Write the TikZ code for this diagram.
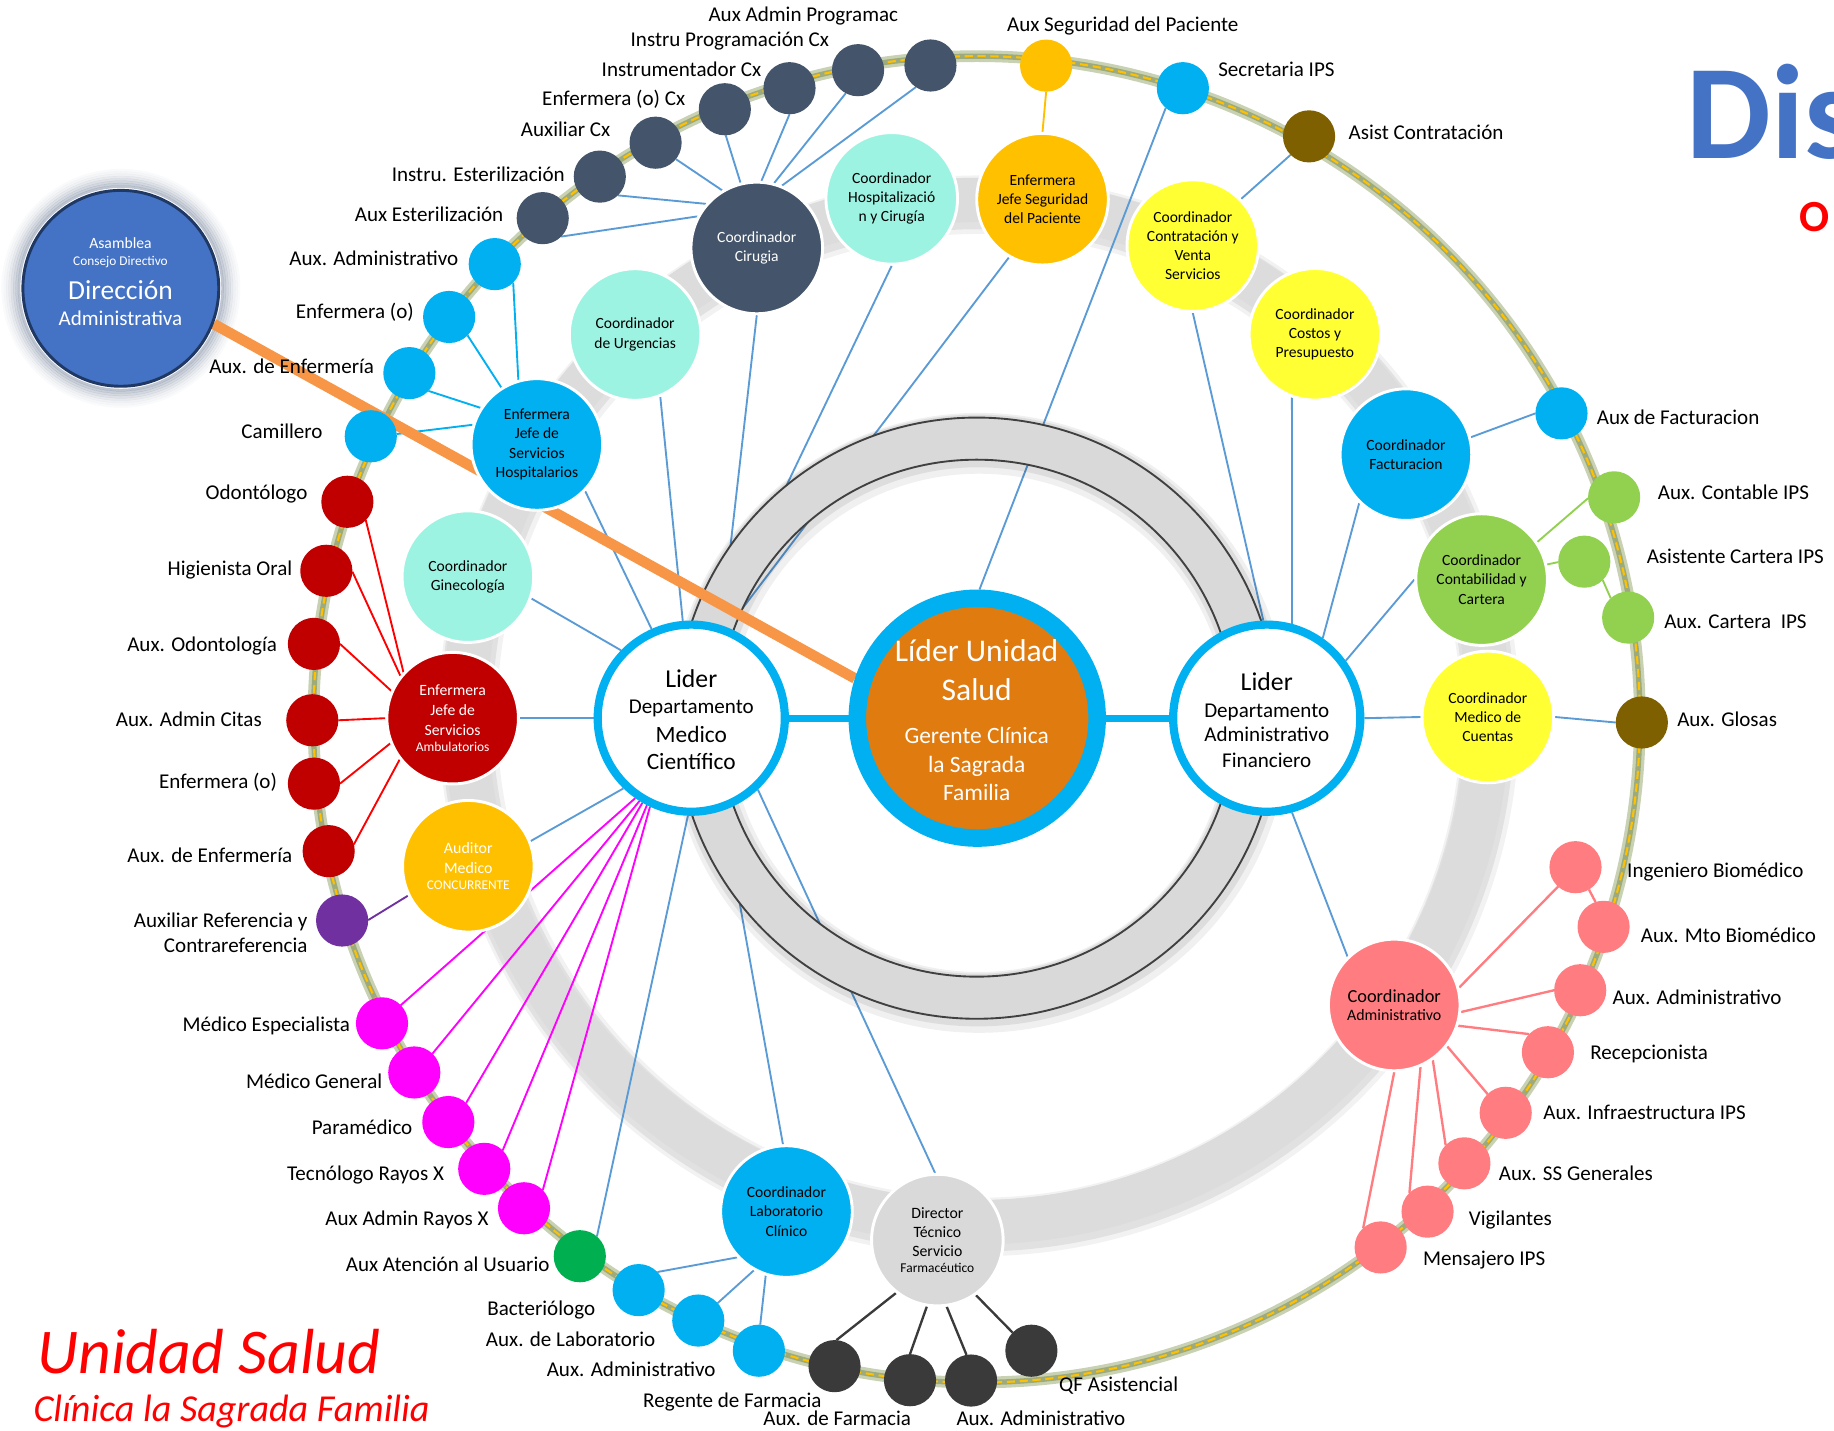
\documentclass[tikz,border=0pt]{standalone}
\usepackage{fontspec}
\setmainfont{Carlito}
\pgfdeclarelayer{back}
\pgfdeclarelayer{lines}
\pgfdeclarelayer{ringl}
\pgfsetlayers{back,lines,ringl,main}
\definecolor{slate}{HTML}{44546A}
\definecolor{aqua}{HTML}{9DF3E2}
\definecolor{gold}{HTML}{FFC000}
\definecolor{yel}{HTML}{FFFF33}
\definecolor{sky}{HTML}{00B0F0}
\definecolor{lgreen}{HTML}{92D050}
\definecolor{salmon}{HTML}{FF7C80}
\definecolor{dred}{HTML}{C00000}
\definecolor{purp}{HTML}{7030A0}
\definecolor{mag}{HTML}{FF00FF}
\definecolor{dgreen}{HTML}{00B050}
\definecolor{olivebrown}{HTML}{7F6000}
\definecolor{charc}{HTML}{3A3A3A}
\definecolor{lgray}{HTML}{D9D9D9}
\definecolor{bandgray}{HTML}{DCDCDC}
\definecolor{ctrorange}{HTML}{E07B10}
\definecolor{lineorange}{HTML}{F79646}
\definecolor{dirblue}{HTML}{4472C4}
\definecolor{dirnavy}{HTML}{1F3864}
\definecolor{conn}{HTML}{5B9BD5}
\definecolor{ringline}{HTML}{404040}
\definecolor{ringglow}{HTML}{C9D1B3}
\definecolor{ringcore}{HTML}{9CAA7C}
\definecolor{glowc}{HTML}{6E7D96}
\tikzset{
  sm/.style={circle, minimum size=44.6pt, inner sep=0pt, outer sep=0pt, draw=none},
  co/.style={circle, draw=white, line width=2.5pt, minimum size=112.5pt, inner sep=0pt, align=center, font=\fontsize{13.3}{16.5}\selectfont},
  lbl/.style={inner sep=0pt, font=\fontsize{18}{21.5}\selectfont, text height=13pt, text depth=3pt},
  ltx/.style={inner sep=0pt, anchor=base},
  cl/.style={draw=conn, line width=1.6pt},
  lider/.style={circle, draw=sky, line width=7pt, fill=white, minimum size=160pt, inner sep=0pt}
}
\begin{document}
\begin{tikzpicture}[x=1pt,y=-1pt]
\useasboundingbox (0,0) rectangle (1568,1223.4);
\clip (0,0) rectangle (1568,1223.4);

% ---------------- main nodes ----------------
\node[lider] (L1) at (591,614) {};
\node[lider] (L2) at (1083,614) {};
\node[circle, draw=sky, line width=15pt, fill=ctrorange, minimum size=205pt, inner sep=0pt] (ctr) at (835.5,614) {};
\node[circle, draw=dirnavy, line width=2.5pt, fill=dirblue, minimum size=167.5pt, inner sep=0pt] (dir) at (103.3,246.5) {};

\node[ltx, font=\fontsize{22}{26}\selectfont] (L1a) at (591,587.7) {Lider};
\node[ltx, font=\fontsize{18}{22}\selectfont] (L1b) at (591,609.9) {Departamento};
\node[ltx, font=\fontsize{20}{24}\selectfont] (L1c) at (591,634.7) {Medico};
\node[ltx, font=\fontsize{20}{24}\selectfont] (L1d) at (591,658.3) {Científico};

\node[ltx, font=\fontsize{22}{26}\selectfont] (L2a) at (1083,590.5) {Lider};
\node[ltx, font=\fontsize{18}{22}\selectfont] (L2b) at (1083,613.3) {Departamento};
\node[ltx, font=\fontsize{18}{22}\selectfont] (L2c) at (1083,634.1) {Administrativo};
\node[ltx, font=\fontsize{18}{22}\selectfont] (L2d) at (1083,656.3) {Financiero};

\node[ltx, text=white, font=\fontsize{27}{32}\selectfont] (ca) at (835,565.7) {Líder Unidad};
\node[ltx, text=white, font=\fontsize{27}{32}\selectfont] (cb) at (835,598.5) {Salud};
\node[ltx, text=white, font=\fontsize{20}{24}\selectfont] (cc) at (835,635.5) {Gerente Clínica};
\node[ltx, text=white, font=\fontsize{20}{24}\selectfont] (cd) at (835,660.6) {la Sagrada};
\node[ltx, text=white, font=\fontsize{20}{24}\selectfont] (ce) at (835,684.6) {Familia};

\node[ltx, text=white, font=\fontsize{13.4}{16}\selectfont] (da) at (103,212.3) {Asamblea};
\node[ltx, text=white, font=\fontsize{11.4}{14}\selectfont] (db) at (103,227.2) {Consejo Directivo};
\node[ltx, text=white, font=\fontsize{23.5}{28}\selectfont] (dc) at (103,255.9) {Dirección};
\node[ltx, text=white, font=\fontsize{18}{22}\selectfont] (dd) at (103,278.7) {Administrativa};

% ---------------- coordinators ----------------
\node[co, fill=slate, text=white] (C1) at (647,212) {Coordinador\\Cirugia};
\node[co, fill=aqua] (C2) at (762.4,169.6) {Coordinador\\Hospitalizació\\n y Cirugía};
\node[co, fill=gold] (C3) at (891.3,170.3) {Enfermera\\Jefe Seguridad\\del Paciente};
\node[co, fill=yel] (C4) at (1019.8,210) {Coordinador\\Contratación y\\Venta\\Servicios};
\node[co, fill=yel] (C5) at (1124.2,285.8) {Coordinador\\Costos y\\Presupuesto};
\node[co, fill=sky] (C6) at (1202,388.7) {Coordinador\\Facturacion};
\node[co, fill=lgreen] (C7) at (1266.7,495.5) {Coordinador\\Contabilidad y\\Cartera};
\node[co, fill=yel] (C8) at (1272,613) {Coordinador\\Medico de\\Cuentas};
\node[co, fill=salmon, font=\fontsize{13.6}{15}\selectfont] (C9) at (1192,859.2) {{\fontsize{15.7}{17}\selectfont Coordinador}\\Administrativo};
\node[co, fill=lgray, font=\fontsize{13.5}{16.5}\selectfont] (C10) at (801.4,1060.2) {Director\\Técnico\\Servicio\\[-3pt]{\fontsize{11.5}{13}\selectfont Farmacéutico}};
\node[co, fill=sky] (C11) at (672.4,1035.8) {Coordinador\\Laboratorio\\Clínico};
\node[co, fill=gold, text=white, font=\fontsize{13.6}{16.9}\selectfont] (C12) at (400.4,740.6) {Auditor\\Medico\\[-3pt]{\fontsize{11.4}{13}\selectfont CONCURRENTE}};
\node[co, fill=dred, text=white, font=\fontsize{13.4}{16.8}\selectfont] (C13) at (387,614) {Enfermera\\Jefe de\\Servicios\\[-3pt]{\fontsize{11.5}{13}\selectfont Ambulatorios}};
\node[co, fill=aqua] (C14) at (400,493) {Coordinador\\Ginecología};
\node[co, fill=sky] (C15) at (459,380) {Enfermera\\Jefe de\\Servicios\\Hospitalarios};
\node[co, fill=aqua] (C16) at (543,286) {Coordinador\\de Urgencias};

% ---------------- outer small nodes ----------------
\node[sm, fill=slate] (p1) at (795.5,56) {};
\node[sm, fill=slate] (p2) at (733.6,60) {};
\node[sm, fill=slate] (p3) at (675,75.4) {};
\node[sm, fill=slate] (p4) at (619.7,93.4) {};
\node[sm, fill=slate] (p5) at (560.5,122) {};
\node[sm, fill=slate] (p6) at (512.8,151) {};
\node[sm, fill=slate] (p7) at (464,186.5) {};
\node[sm, fill=sky] (h1) at (423,225.8) {};
\node[sm, fill=sky] (h2) at (384,271) {};
\node[sm, fill=sky] (h3) at (350,319) {};
\node[sm, fill=sky] (h4) at (317,373) {};
\node[sm, fill=dred] (r1) at (297,429) {};
\node[sm, fill=dred] (r2) at (279,488) {};
\node[sm, fill=dred] (r3) at (268.4,550.5) {};
\node[sm, fill=dred] (r4) at (267,615.8) {};
\node[sm, fill=dred] (r5) at (268.4,670) {};
\node[sm, fill=dred] (r6) at (281,727.7) {};
\node[sm, fill=purp] (u1) at (292.5,787) {};
\node[sm, fill=mag] (m1) at (326.6,874.9) {};
\node[sm, fill=mag] (m2) at (354.2,916.9) {};
\node[sm, fill=mag] (m3) at (383.3,959.3) {};
\node[sm, fill=mag] (m4) at (414,999.3) {};
\node[sm, fill=mag] (m5) at (448,1033) {};
\node[sm, fill=dgreen] (g1) at (495.7,1074) {};
\node[sm, fill=sky] (b1) at (546,1103) {};
\node[sm, fill=sky] (b2) at (597,1129) {};
\node[sm, fill=sky] (b3) at (648.8,1154.8) {};
\node[sm, fill=charc] (f1) at (713.5,1168) {};
\node[sm, fill=charc] (f2) at (778,1180) {};
\node[sm, fill=charc] (f3) at (830.2,1180.3) {};
\node[sm, fill=charc] (f4) at (881.8,1154.8) {};
\node[sm, fill=salmon] (s1) at (1180.4,1066.5) {};
\node[sm, fill=salmon] (s2) at (1220.5,1035.9) {};
\node[sm, fill=salmon] (s3) at (1252,994.6) {};
\node[sm, fill=salmon] (s4) at (1287.3,951.4) {};
\node[sm, fill=salmon] (s5) at (1323.4,899.6) {};
\node[sm, fill=salmon] (s6) at (1351,846.6) {};
\node[sm, fill=salmon] (s7) at (1371,792.4) {};
\node[sm, fill=salmon] (s8) at (1347,741.4) {};
\node[sm, fill=olivebrown] (e1) at (1403.7,617.7) {};
\node[sm, fill=lgreen] (k1) at (1392,528) {};
\node[sm, fill=lgreen] (k2) at (1354.5,480.2) {};
\node[sm, fill=lgreen] (k3) at (1380,425.2) {};
\node[sm, fill=sky] (q1) at (1335,353.4) {};
\node[sm, fill=olivebrown] (q2) at (1119.2,116.6) {};
\node[sm, fill=sky] (q3) at (1011.3,75.4) {};
\node[sm, fill=gold] (q4) at (894.4,56.1) {};

% ---------------- labels ----------------
\node[lbl, anchor=east] (tp1) at (768,13.7) {Aux Admin Programac};
\node[lbl, anchor=east] (tp2) at (709,34.6) {Instru Programación Cx};
\node[lbl, anchor=east] (tp3) at (651,60) {Instrumentador Cx};
\node[lbl, anchor=east] (tp4) at (586,85.6) {Enfermera (o) Cx};
\node[lbl, anchor=east] (tp5) at (522,111.5) {Auxiliar Cx};
\node[lbl, anchor=east] (tp6) at (483,150.4) {Instru. Esterilización};
\node[lbl, anchor=east] (tp7) at (430.5,184.5) {Aux Esterilización};
\node[lbl, anchor=east] (th1) at (392,221.8) {Aux. Administrativo};
\node[lbl, anchor=east] (th2) at (354,267) {Enfermera (o)};
\node[lbl, anchor=east] (th3) at (320,314) {Aux. de Enfermería};
\node[lbl, anchor=east] (th4) at (276,370) {Camillero};
\node[lbl, anchor=east] (tr1) at (263,422) {Odontólogo};
\node[lbl, anchor=east] (tr2) at (250,487) {Higienista Oral};
\node[lbl, anchor=east] (tr3) at (237,551.6) {Aux. Odontología};
\node[lbl, anchor=east] (tr4) at (224,615.8) {Aux. Admin Citas};
\node[lbl, anchor=east] (tr5) at (237,668.8) {Enfermera (o)};
\node[lbl, anchor=east] (tr6) at (250,732) {Aux. de Enfermería};
\node[inner sep=0pt, anchor=east, align=right, font=\fontsize{18}{21.5}\selectfont] (tu1) at (263,797.7) {Auxiliar Referencia y\\Contrareferencia};
\node[lbl, anchor=east] (tm1) at (299.5,876.8) {Médico Especialista};
\node[lbl, anchor=east] (tm2) at (327,925.9) {Médico General};
\node[lbl, anchor=east] (tm3) at (352.7,965.2) {Paramédico};
\node[lbl, anchor=east] (tm4) at (379.8,1004.4) {Tecnólogo Rayos X};
\node[lbl, anchor=east] (tm5) at (418,1042.5) {Aux Admin Rayos X};
\node[lbl, anchor=east] (tg1) at (470,1081.8) {Aux Atención al Usuario};
\node[lbl, anchor=east] (tb1) at (509,1120) {Bacteriólogo};
\node[lbl, anchor=east] (tb2) at (560.5,1145.8) {Aux. de Laboratorio};
\node[lbl, anchor=east] (tb3) at (612,1172) {Aux. Administrativo};
\node[lbl, anchor=east] (tf1) at (702.5,1198) {Regente de Farmacia};
\node[lbl, anchor=east] (tf2) at (779,1213.5) {Aux. de Farmacia};
\node[lbl, anchor=west] (tf3) at (817.6,1214) {Aux. Administrativo};
\node[lbl, anchor=west] (tf4) at (905.4,1185) {QF Asistencial};
\node[lbl, anchor=west] (ts1) at (1216.5,1077) {Mensajero IPS};
\node[lbl, anchor=west] (ts2) at (1255.7,1042.5) {Vigilantes};
\node[lbl, anchor=west] (ts3) at (1281.3,1004.4) {Aux. SS Generales};
\node[lbl, anchor=west] (ts4) at (1319.4,952.2) {Aux. Infraestructura IPS};
\node[lbl, anchor=west] (ts5) at (1359.5,900.4) {Recepcionista};
\node[lbl, anchor=west] (ts6) at (1378.6,854) {Aux. Administrativo};
\node[lbl, anchor=west] (ts7) at (1402.7,801) {Aux. Mto Biomédico};
\node[lbl, anchor=west] (ts8) at (1391,745.3) {Ingeniero Biomédico};
\node[lbl, anchor=west] (te1) at (1433.8,616.5) {Aux. Glosas};
\node[lbl, anchor=west] (tk1) at (1422.7,532) {Aux. Cartera\ \ IPS};
\node[lbl, anchor=west] (tk2) at (1407.7,477) {Asistente Cartera IPS};
\node[lbl, anchor=west] (tk3) at (1417.2,422) {Aux. Contable IPS};
\node[lbl, anchor=west] (tq1) at (1365,358) {Aux de Facturacion};
\node[lbl, anchor=west] (tq2) at (1152.8,113.9) {Asist Contratación};
\node[lbl, anchor=west] (tq3) at (1041.4,60) {Secretaria IPS};
\node[lbl, anchor=west] (tq4) at (860.8,21.6) {Aux Seguridad del Paciente};

% ---------------- titles ----------------
\node[inner sep=0pt, anchor=base west, text=red, font=\fontsize{54.5}{60}\selectfont\itshape] (tt1) at (32,1174.2) {Unidad Salud};
\node[inner sep=0pt, anchor=base west, text=red, font=\fontsize{32.6}{38}\selectfont\itshape] (tt2) at (28.5,1215.5) {Clínica la Sagrada Familia};
\node[inner sep=0pt, anchor=base west, text=dirblue, font=\fontsize{115}{120}\selectfont\bfseries] (tt3) at (1442,135.4) {Dis};
\node[inner sep=0pt, anchor=base west, text=red, font=\fontsize{38}{40}\selectfont\bfseries] (tt4) at (1538,198) {O};

% ---------------- background rings ----------------
\begin{pgfonlayer}{back}
  \draw[ringglow, line width=10pt] (835,615) circle[radius=567];
  \draw[ringcore, line width=4.5pt] (835,615) circle[radius=567];
  \draw[gold, line width=1.8pt, dash pattern=on 7pt off 4pt] (835,615) circle[radius=567];
  \draw[black, opacity=0.05, line width=50pt] (837,612) circle[radius=437];
  \draw[black, opacity=0.07, line width=44pt] (836,611) circle[radius=437];
  \draw[bandgray, line width=38pt] (835,608) circle[radius=437];
  \foreach \r/\o in {87/0.45,89/0.38,91/0.3,93/0.23,95/0.17,97/0.11,99/0.07,101/0.04}
    \draw[glowc, opacity=\o, line width=2.2pt] (103.3,246.5) circle[radius=\r];
\end{pgfonlayer}

% ---------------- connectors ----------------
\begin{pgfonlayer}{lines}
  % Coordinador Cirugia
  \draw[cl] (C1.152) -- (p7.315);
  \draw[cl] (C1.139) -- (p6.314);
  \draw[cl] (C1.121) -- (p5.321);
  \draw[cl] (C1.104) -- (p4.272);
  \draw[cl] (C1.86) -- (p3.270);
  \draw[cl] (C1.75) -- (p2.242);
  \draw[cl] (C1.68) -- (p1.236);
  % Enfermera Jefe Servicios Hospitalarios
  \draw[sky, line width=1.6pt] (C15.106) -- (h1.315);
  \draw[sky, line width=1.6pt] (C15.122) -- (h2.315);
  \draw[sky, line width=1.6pt] (C15.147) -- (h3.317);
  \draw[sky, line width=1.6pt] (C15.163) -- (h4.5);
  % Enfermera Jefe Servicios Ambulatorios
  \draw[red, line width=1.6pt] (C13.137) -- (r1.315);
  \draw[red, line width=1.6pt] (C13.141) -- (r2.358);
  \draw[red, line width=1.6pt] (C13.156) -- (r3.0);
  \draw[red, line width=1.6pt] (C13.180) -- (r4.0);
  \draw[red, line width=1.6pt] (C13.202) -- (r5.0);
  \draw[red, line width=1.6pt] (C13.218) -- (r6.15);
  % Auditor
  \draw[purp, line width=1.6pt] (C12.206) -- (u1.1);
  % Lider Medico Cientifico
  \draw[mag, line width=1.6pt] (L1.235) -- (m1.44);
  \draw[mag, line width=1.6pt] (L1.238) -- (m2.46);
  \draw[mag, line width=1.6pt] (L1.240) -- (m3.47);
  \draw[mag, line width=1.6pt] (L1.243) -- (m4.45);
  \draw[mag, line width=1.6pt] (L1.245) -- (m5.44);
  \draw[cl] (L1.268) -- (g1.49);
  \draw[cl] (L1.289) -- (C11.93);
  \draw[cl] (L1.313) -- (C10.92);
  \draw[cl] (L1.226) -- (C12.22);
  \draw[cl] (L1.180) -- (C13.0);
  \draw[cl] (L1.136) -- (C14.341);
  \draw[cl] (L1.114) -- (C15.316);
  \draw[cl] (L1.95) -- (C16.292);
  \draw[cl] (L1.72) -- (C1.270);
  \draw[cl] (L1.73) -- (C2.270);
  \draw[cl] (L1.68) -- (C3.240);
  % Lider Unidad Salud
  \draw[cl] (q3.229) -- (ctr.89);
  % Lider Administrativo Financiero
  \draw[cl] (L2.92) -- (C4.270);
  \draw[cl] (L2.75) -- (C5.250);
  \draw[cl] (L2.55) -- (C6.226);
  \draw[cl] (L2.36) -- (C7.180);
  \draw[cl] (L2.0) -- (C8.180);
  \draw[cl] (L2.285) -- (C9.134);
  % outer links right
  \draw[gold, line width=1.6pt] (C3.90) -- (q4.270);
  \draw[cl] (C4.44) -- (q2.225);
  \draw[cl] (C6.15) -- (q1.180);
  \draw[lgreen, line width=1.6pt] (C7.34) -- (k3.182);
  \draw[lgreen, line width=1.6pt] (C7.13) -- (k2.181);
  \draw[lgreen, line width=1.6pt] (k2.315) -- (k1.132);
  \draw[cl] (C8.0) -- (e1.180);
  % Coordinador Administrativo
  \draw[salmon, line width=2pt] (C9.15) -- (s8.228);
  \draw[salmon, line width=2pt] (s8.301) -- (s7.108);
  \draw[salmon, line width=2pt] (C9.354) -- (s6.180);
  \draw[salmon, line width=2pt] (C9.342) -- (s5.136);
  \draw[salmon, line width=2pt] (C9.322) -- (s4.134);
  \draw[salmon, line width=2pt] (C9.305) -- (s3.136);
  \draw[salmon, line width=2pt] (C9.293) -- (s2.134);
  \draw[salmon, line width=2pt] (C9.270) -- (s1.132);
  % Laboratorio
  \draw[cl] (C11.223) -- (b1.44);
  \draw[cl] (C11.241) -- (b2.42);
  \draw[cl] (C11.252) -- (b3.87);
  % Director Tecnico
  \draw[charc, line width=2pt] (C10.232) -- (f1.86);
  \draw[charc, line width=2pt] (C10.261) -- (f2.90);
  \draw[charc, line width=2pt] (C10.278) -- (f3.100);
  \draw[charc, line width=2pt] (C10.305) -- (f4.136);
\end{pgfonlayer}

% ---------------- inner ring and main links ----------------
\begin{pgfonlayer}{ringl}
  \draw[black, opacity=0.06, line width=52pt] (837,618) circle[radius=239];
  \draw[black, opacity=0.08, line width=45pt] (836,616) circle[radius=239];
  \draw[lgray, line width=36pt] (835,614) circle[radius=239];
  \draw[ringline, line width=1.6pt] (835,614) circle[radius=221];
  \draw[ringline, line width=1.6pt] (835,614) circle[radius=257];
  \draw[lineorange, line width=9pt] (dir.-21) -- (ctr.162);
  \draw[sky, line width=6pt] (L1.east) -- (ctr.west);
  \draw[sky, line width=6pt] (ctr.east) -- (L2.west);
\end{pgfonlayer}
\end{tikzpicture}
\end{document}
